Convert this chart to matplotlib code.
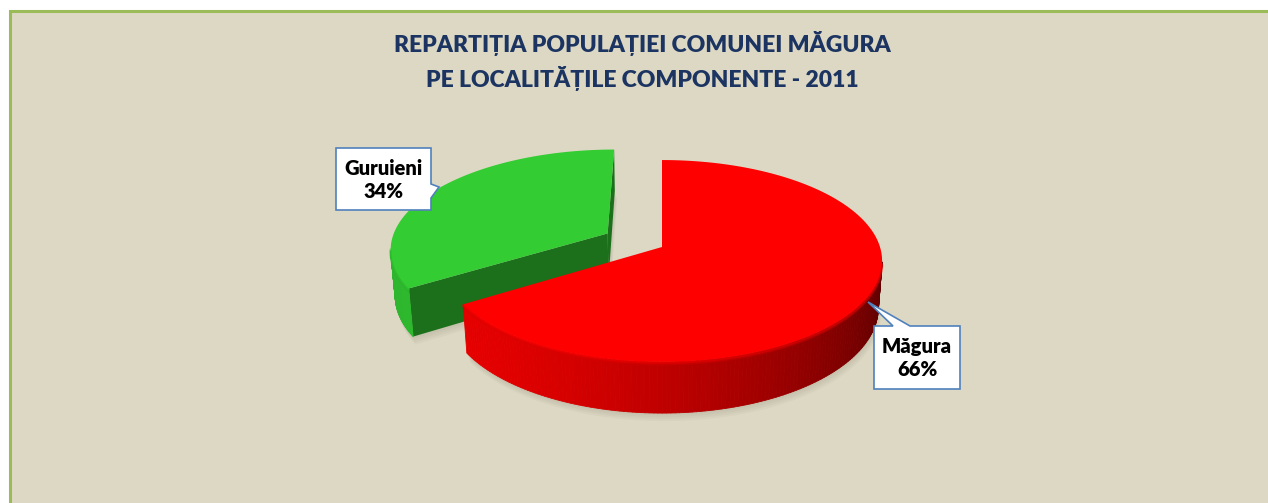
import numpy as np
import matplotlib
matplotlib.use("Agg")
import matplotlib.pyplot as plt
from matplotlib.patches import Polygon, Rectangle

# ── Data ─────────────────────────────────────────────────────
labels  = ["Măgura", "Guruieni"]
shares  = [66, 34]
explode = [0.0, 0.29]
colors  = [(1.0, 0.0, 0.0), (0.2, 0.8, 0.2)]
title   = "REPARTIȚIA POPULAȚIEI COMUNEI MĂGURA\nPE LOCALITĂȚILE COMPONENTE - 2011"

# ── Layout (pixels) ──────────────────────────────────────────
W, H = 1268, 503
CX, CY = 662, 247          # projected pie centre
S = 218                    # radius scale
PHI = np.radians(27)       # view elevation
DIST = 6.45                # camera distance (perspective)
DEPTH = 0.242              # pie thickness
BG = "#DDD8C3"
FONT = ["Lato", "DejaVu Sans"]

cam = np.array([0.0, -DIST * np.cos(PHI), DIST * np.sin(PHI)])


def project(x, y, z):
    x, y, z = np.asarray(x), np.asarray(y), np.asarray(z)
    v = y * np.sin(PHI) + z * np.cos(PHI)
    w = y * np.cos(PHI) - z * np.sin(PHI)
    k = 1.0 / (1.0 + w / DIST)
    return CX + S * x * k, CY - S * v * k


def shade(rgb, f):
    return tuple(np.clip(np.array(rgb) * f, 0, 1))


fig = plt.figure(figsize=(W / 100, H / 100), dpi=100)
fig.patch.set_facecolor("white")
ax = fig.add_axes([0, 0, 1, 1])
ax.set_xlim(0, W)
ax.set_ylim(H, 0)
ax.axis("off")

# chart area: fill, then only the top and left borders are inside the picture
ax.add_patch(Rectangle((9.5, 10.5), W, H, facecolor=BG,
                       edgecolor="none", zorder=0))
ax.plot([9.5, 9.5, W], [H, 10.5, 10.5], color="#9BBB59", lw=2.2,
        solid_joinstyle="miter", zorder=0.5)

ax.text(642, 61, title, ha="center", va="center", fontsize=16.5,
        fontweight="heavy", color="#1B3461", family=FONT, linespacing=1.45)

# ── Slices geometry ──────────────────────────────────────────
slices = []
start = 90.0
for lab, sh, ex, col in zip(labels, shares, explode, colors):
    t1 = start
    t0 = start - sh * 3.6
    start = t0
    mid = np.radians((t0 + t1) / 2)
    ox, oy = ex * np.cos(mid), ex * np.sin(mid)
    depth_key = (oy + 0.5 * np.sin(mid)) * np.cos(PHI)
    slices.append(dict(t0=np.radians(t0), t1=np.radians(t1), ox=ox, oy=oy,
                       col=col, key=depth_key))

# soft shadow below the pie
for sl in slices:
    th = np.linspace(sl["t0"], sl["t1"], 120)
    xs = np.r_[sl["ox"], sl["ox"] + np.cos(th)]
    ys = np.r_[sl["oy"], sl["oy"] + np.sin(th)]
    px, py = project(xs, ys, -DEPTH)
    for off in range(2, 10, 2):
        ax.add_patch(Polygon(np.c_[px + off * 0.3, py + off], closed=True,
                             facecolor="#6f6a58", edgecolor="none",
                             alpha=0.05, zorder=1))

# back slices first
for sl in sorted(slices, key=lambda s: -s["key"]):
    t0, t1, ox, oy, col = sl["t0"], sl["t1"], sl["ox"], sl["oy"], sl["col"]

    # radial side faces
    for t, sign in ((t0, 1), (t1, -1)):
        nrm = np.array([sign * np.sin(t), -sign * np.cos(t), 0.0])
        pmid = np.array([ox + 0.5 * np.cos(t), oy + 0.5 * np.sin(t), -DEPTH / 2])
        if np.dot(nrm, cam - pmid) > 0:
            xs = [ox, ox + np.cos(t), ox + np.cos(t), ox]
            ys = [oy, oy + np.sin(t), oy + np.sin(t), oy]
            zs = [0, 0, -DEPTH, -DEPTH]
            px, py = project(xs, ys, zs)
            ax.add_patch(Polygon(np.c_[px, py], closed=True,
                                 facecolor=shade(col, 0.55), edgecolor="none",
                                 zorder=2))

    # outer wall, in small segments sorted back to front
    th = np.linspace(t0, t1, 240)
    segs = []
    for a, b in zip(th[:-1], th[1:]):
        m = (a + b) / 2
        vis = -1 - ox * np.cos(m) - np.sin(m) * (DIST * np.cos(PHI) + oy)
        if vis < -0.2:
            continue
        f = 0.6 + 0.3 * np.cos(m + np.radians(150))
        xs = [ox + np.cos(a), ox + np.cos(b), ox + np.cos(b), ox + np.cos(a)]
        ys = [oy + np.sin(a), oy + np.sin(b), oy + np.sin(b), oy + np.sin(a)]
        zs = [0, 0, -DEPTH, -DEPTH]
        segs.append((np.sin(m), xs, ys, zs, f))
    for _, xs, ys, zs, f in sorted(segs, key=lambda s: -s[0]):
        px, py = project(xs, ys, zs)
        c = shade(col, f)
        ax.add_patch(Polygon(np.c_[px, py], closed=True, facecolor=c,
                             edgecolor=c, lw=0.6, zorder=2))

    # top face
    xs = np.r_[ox, ox + np.cos(th)]
    ys = np.r_[oy, oy + np.sin(th)]
    px, py = project(xs, ys, 0)
    ax.add_patch(Polygon(np.c_[px, py], closed=True, facecolor=col,
                         edgecolor="none", zorder=2))

    # light bevel along the front rim
    front = th[np.sin(th) < -0.15]
    if len(front):
        px, py = project(ox + np.cos(front), oy + np.sin(front), 0)
        ax.plot(px, py + 1, color=shade(col, 1.0), lw=1.6, alpha=0.5,
                zorder=2, solid_capstyle="round")
        ax.plot(px, py + 2.5, color=shade(col, 0.85), lw=1.6, alpha=0.4,
                zorder=2)

# ── Callouts ─────────────────────────────────────────────────
BOX_EC = "#4F81BD"
guru_box = [(336, 148), (431, 148), (431, 184), (439, 187), (431, 198),
            (431, 210), (336, 210)]
mag_box = [(874, 326), (893, 326), (868, 302), (910, 326), (960, 326),
           (960, 389), (874, 389)]
for pts in (guru_box, mag_box):
    ax.add_patch(Polygon(pts, closed=True, facecolor="white",
                         edgecolor=BOX_EC, lw=1.2, zorder=4))

ax.text(383.5, 180, f"{labels[1]}\n{shares[1]}%", ha="center", va="center",
        fontsize=14.5, fontweight="heavy", color="black", family=FONT,
        linespacing=1.25, zorder=5)
ax.text(917, 358, f"{labels[0]}\n{shares[0]}%", ha="center", va="center",
        fontsize=14.5, fontweight="heavy", color="black", family=FONT,
        linespacing=1.25, zorder=5)

plt.savefig("out.png", dpi=100, facecolor="white")
plt.close()
